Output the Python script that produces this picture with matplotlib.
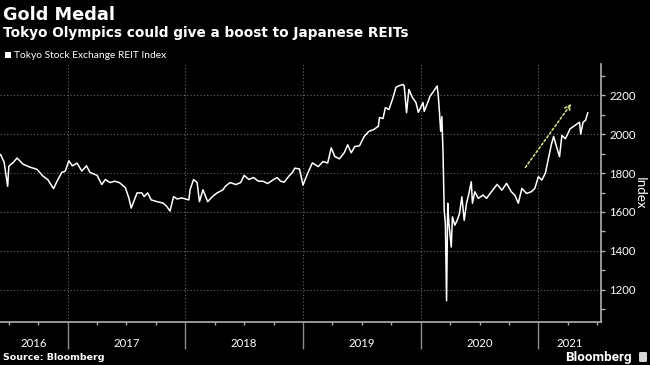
import matplotlib
matplotlib.use("Agg")
import matplotlib.pyplot as plt
from matplotlib.patches import Rectangle, FancyBboxPatch

# Tokyo Stock Exchange REIT Index (decimal year, index level)
years = [
    2016.43, 2016.46, 2016.49, 2016.50, 2016.54, 2016.57, 2016.62, 2016.68, 2016.74, 2016.79,
    2016.83, 2016.88, 2016.91, 2016.95, 2016.98, 2017.01, 2017.04, 2017.08, 2017.12, 2017.16,
    2017.19, 2017.25, 2017.29, 2017.32, 2017.36, 2017.40, 2017.44, 2017.49, 2017.52, 2017.54,
    2017.59, 2017.63, 2017.65, 2017.68, 2017.71, 2017.76, 2017.81, 2017.84, 2017.87, 2017.90,
    2017.93, 2017.97, 2018.03, 2018.04, 2018.07, 2018.10, 2018.12, 2018.15, 2018.19, 2018.23,
    2018.27, 2018.32, 2018.34, 2018.38, 2018.43, 2018.47, 2018.50, 2018.54, 2018.58, 2018.62,
    2018.66, 2018.70, 2018.75, 2018.78, 2018.81, 2018.84, 2018.88, 2018.91, 2018.93, 2018.97,
    2019.00, 2019.04, 2019.08, 2019.13, 2019.17, 2019.21, 2019.24, 2019.27, 2019.31, 2019.35,
    2019.38, 2019.41, 2019.44, 2019.48, 2019.52, 2019.56, 2019.60, 2019.64, 2019.65, 2019.68,
    2019.70, 2019.73, 2019.76, 2019.79, 2019.81, 2019.85, 2019.86, 2019.88, 2019.90, 2019.93,
    2019.96, 2019.98, 2020.02, 2020.03, 2020.06, 2020.08, 2020.11, 2020.14, 2020.15, 2020.16,
    2020.17, 2020.18, 2020.19, 2020.20, 2020.21, 2020.22, 2020.23, 2020.24, 2020.26, 2020.27,
    2020.29, 2020.31, 2020.33, 2020.35, 2020.37, 2020.39, 2020.41, 2020.43, 2020.44, 2020.46,
    2020.49, 2020.53, 2020.56, 2020.59, 2020.65, 2020.69, 2020.73, 2020.77, 2020.80, 2020.83,
    2020.86, 2020.90, 2020.94, 2020.97, 2021.00, 2021.03, 2021.06, 2021.08, 2021.11, 2021.13,
    2021.15, 2021.18, 2021.20, 2021.23, 2021.27, 2021.31, 2021.35, 2021.36, 2021.38, 2021.40,
    2021.42,
]
index = [
    1895, 1856, 1732, 1835, 1856, 1877, 1846, 1830, 1819, 1784,
    1767, 1720, 1758, 1803, 1810, 1863, 1837, 1851, 1810, 1837,
    1803, 1788, 1741, 1767, 1751, 1758, 1751, 1725, 1672, 1620,
    1698, 1698, 1679, 1698, 1662, 1653, 1646, 1630, 1605, 1679,
    1667, 1672, 1662, 1714, 1767, 1751, 1653, 1714, 1653, 1679,
    1698, 1714, 1732, 1751, 1741, 1751, 1788, 1767, 1777, 1758,
    1758, 1746, 1767, 1777, 1758, 1753, 1784, 1803, 1825, 1821,
    1738, 1799, 1852, 1833, 1859, 1852, 1930, 1885, 1873, 1904,
    1945, 1904, 1936, 1940, 1988, 2014, 2023, 2040, 2085, 2080,
    2136, 2126, 2178, 2240, 2247, 2255, 2247, 2110, 2229, 2188,
    2162, 2112, 2162, 2117, 2162, 2195, 2220, 2247, 2195, 2110,
    2014, 2090, 1904, 1609, 1542, 1144, 1645, 1542, 1420, 1575,
    1532, 1557, 1592, 1678, 1557, 1645, 1695, 1755, 1645, 1704,
    1670, 1687, 1670, 1695, 1742, 1712, 1747, 1704, 1687, 1645,
    1721, 1695, 1704, 1721, 1781, 1764, 1800, 1858, 1945, 1988,
    1945, 1884, 1993, 1976, 2027, 2044, 2061, 2000, 2061, 2070,
    2109,
]
year_labels = [2016, 2017, 2018, 2019, 2020, 2021]
y_ticks = [1200, 1400, 1600, 1800, 2000, 2200]
arrow_start = (2020.89, 1829)
arrow_end = (2021.28, 2156)

x_min, x_max = 2016.425, 2021.53
y_min, y_max = 1035, 2360

fig = plt.figure(figsize=(6.5, 3.65), dpi=100, facecolor="black")
ax = fig.add_axes([0, 43 / 365, 600.7 / 650, 258 / 365], facecolor="black")

ax.plot(years, index, color="white", lw=1.1, solid_joinstyle="round")

ax.set_xlim(x_min, x_max)
ax.set_ylim(y_min, y_max)

# axes / spines
for s in ["left", "top"]:
    ax.spines[s].set_visible(False)
for s in ["right", "bottom"]:
    ax.spines[s].set_color("#b0b0b0")
    ax.spines[s].set_linewidth(1.2)

ax.yaxis.tick_right()
ax.set_yticks(y_ticks)
ax.set_yticks(range(1100, 2400, 100), minor=True)
ax.tick_params(axis="y", which="both", direction="out", length=3, width=1,
               color="#b0b0b0", labelcolor="white", labelsize=8.2, pad=3)
for lab in ax.get_yticklabels():
    lab.set_family("Lato")

ax.set_xticks(year_labels[1:])
ax.set_xticks([y + q / 4 for y in range(2016, 2022) for q in range(4)
               if x_min < y + q / 4 < x_max], minor=True)
ax.tick_params(axis="x", which="major", direction="out", length=19.5, width=1,
               color="#8a8a8a", labelbottom=False)
ax.tick_params(axis="x", which="minor", direction="out", length=2, width=1,
               color="#b0b0b0")

ax.grid(True, which="major", linestyle=(0, (1, 2)), color="#6a6a6a", lw=0.8)

# year labels centred in the visible part of each year
for yr in year_labels:
    c = (max(yr, x_min) + min(yr + 1, x_max)) / 2
    ax.annotate(str(yr), xy=(c, 0), xycoords=("data", "axes fraction"),
                xytext=(0, -15.5), textcoords="offset points",
                ha="center", va="center", color="white", fontsize=8.2,
                family="Lato")

ax.yaxis.set_label_position("right")
ax.set_ylabel("Index", color="white", fontsize=9.6, family="Lato",
              rotation=270, labelpad=7)

# arrow
ax.annotate("", xy=arrow_end, xytext=arrow_start,
            arrowprops=dict(arrowstyle="->", color="#dfe68c", lw=1.1,
                            linestyle=(0, (1.5, 1.5)), shrinkA=0, shrinkB=0))

# titles and legend
fig.text(3 / 650, 1 - 15 / 365, "Gold Medal", color="white", fontsize=12.8,
         fontweight="bold", family="DejaVu Sans", va="center", ha="left")
fig.text(3 / 650, 1 - 33 / 365, "Tokyo Olympics could give a boost to Japanese REITs",
         color="white", fontsize=9.8, fontweight="bold", family="DejaVu Sans",
         va="center", ha="left")
fig.patches.append(Rectangle((5 / 650, 1 - 58 / 365), 6 / 650, 6 / 365,
                             transform=fig.transFigure, facecolor="white",
                             edgecolor="none"))
fig.text(14 / 650, 1 - 55 / 365, "Tokyo Stock Exchange REIT Index", color="white",
         fontsize=7.4, family="Lato", va="center", ha="left")

# footer
fig.text(3 / 650, 1 - 358 / 365, "Source: Bloomberg", color="white", fontsize=6.8,
         fontweight="bold", family="DejaVu Sans", va="center", ha="left")
fig.text(632 / 650, 1 - 357 / 365, "Bloomberg", color="white", fontsize=9.6,
         fontweight="bold", family="Roboto", va="center", ha="right")
fig.patches.append(FancyBboxPatch((639 / 650, 1 - 362 / 365), 8 / 650, 10 / 365,
                                  boxstyle="round,pad=0,rounding_size=0.003",
                                  transform=fig.transFigure, facecolor="#d8d8d8",
                                  edgecolor="none"))

fig.savefig("out.png", dpi=100, facecolor="black")
